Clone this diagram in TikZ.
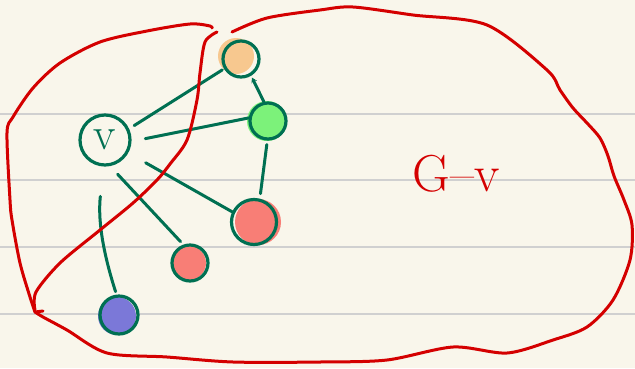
\documentclass[tikz,border=0pt]{standalone}
\usepackage{tikz}
\usetikzlibrary{arrows.meta}
\usetikzlibrary{positioning}
\definecolor{paper}{RGB}{249,246,235}
\definecolor{rulegray}{RGB}{208,208,208}
\definecolor{ink}{RGB}{212,0,0}
\definecolor{pen}{RGB}{0,112,82}
\definecolor{peach}{RGB}{247,200,143}
\definecolor{lime}{RGB}{124,242,122}
\definecolor{salmon}{RGB}{248,126,118}
\definecolor{lilac}{RGB}{123,120,216}

\begin{document}
\begin{tikzpicture}[x=1pt,y=-1pt,
        vtx/.style={circle,draw=pen,line width=3.2pt,inner sep=0pt},
        edge/.style={draw=pen,line width=3pt,line cap=round},
        outline/.style={ink,line width=3pt,line cap=round,line join=round}]
        \fill[paper] (0,0) rectangle (635,368);
        \useasboundingbox (0,0) rectangle (635,368);
        \foreach \y in {114,180,247,314}
            \draw[rulegray,line width=1.8pt] (0,\y) -- (635,\y);
        \fill[peach] (236,56) circle (18);
        \fill[lime] (267,121) circle (20);
        \fill[salmon] (258,222) circle (23);
        \fill[salmon] (189,263) circle (17);
        \fill[lilac] (117,316) circle (19);
        \node[vtx,minimum size=50pt,text=pen,font=\fontsize{46}{46}\selectfont] (v) at (105,140) {v};
        \node[vtx,minimum size=36pt] (o) at (241,59) {};
        \node[vtx,minimum size=36pt] (g) at (268,121) {};
        \node[vtx,minimum size=45pt] (rb) at (254,222) {};
        \node[vtx,minimum size=36pt] (rs) at (190,263) {};
        \node[vtx,minimum size=38pt] (b) at (119,315) {};
        \draw[edge,shorten <=6pt,shorten >=2pt] (v.25) -- (o.-150);
        \draw[edge,shorten <=14pt] (v.-3) -- (g.171);
        \draw[edge,shorten <=20pt] (v.-29) -- (rb.155);
        \draw[edge,shorten <=11pt,shorten >=4pt] (v.-79) -- (rs.110);
        \draw[edge,shorten <=30pt,shorten >=3pt] (v.-93) to[bend right=12] (b.97);
        \draw[edge,shorten >=2pt,-{Stealth[length=5pt,width=6pt]}] (g.102) -- (o.-59);
        \draw[edge,shorten <=4pt,shorten >=5pt] (g.-92) -- (rb.76);
        \node[text=ink,font=\fontsize{52}{52}\selectfont] (lbl) at (456,174) {G--v};
        \draw[outline] plot[smooth] coordinates {(212,28) (210,26) (190,24) (147,31) (100,42) (60,63) (33,88) (13,117) (7,133) (10,200) (12,220) (20,263) (30,297) (35,312)} -- (43,311);
        \draw[outline] plot[smooth] coordinates {(35,310) (36,292) (60,263) (100,230) (133,203) (157,180) (170,164) (187,140) (197,100) (200,73) (205,42) (217,32)};
        \draw[outline] plot[smooth] coordinates {(232,32) (267,18) (320,10) (353,7) (413,15) (487,25) (547,70) (560,90) (573,108) (587,123) (600,138) (608,156) (614,176) (624,200) (632,225) (630,260) (613,300) (587,327) (553,340) (507,353) (453,347) (387,360) (320,362) (233,362) (167,357) (107,353) (67,330) (43,317) (35,312)};
\end{tikzpicture}
\end{document}
